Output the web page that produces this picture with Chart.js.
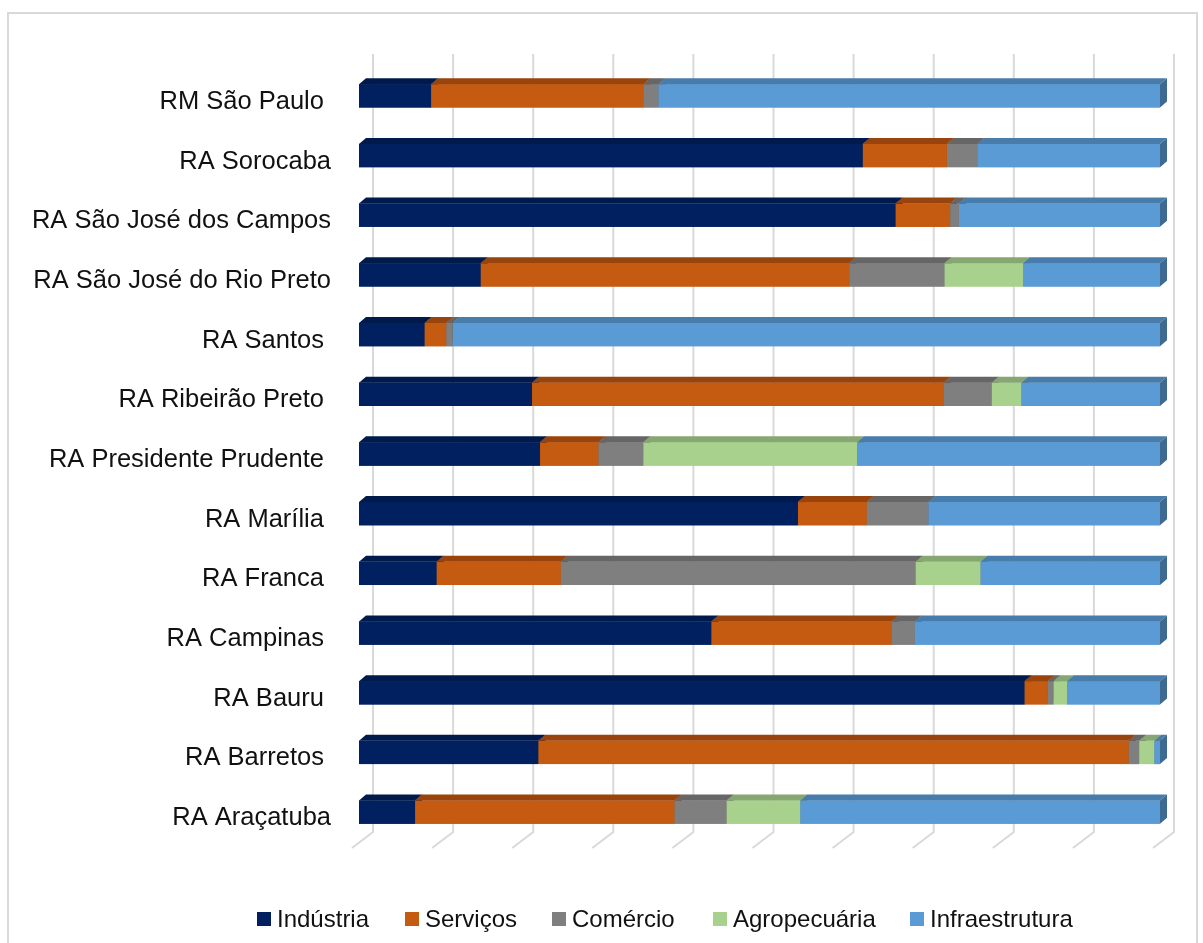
<!DOCTYPE html>
<html lang="pt">
<head>
<meta charset="utf-8">
<title>Distribuição por setor</title>
<script src="https://cdn.jsdelivr.net/npm/chart.js@4/dist/chart.umd.min.js"></script>
<style>
  html, body { margin: 0; padding: 0; background: #fff; }
  body { width: 1203px; height: 943px; position: relative; overflow: hidden; font-family: "Liberation Sans", Arial, sans-serif; }
  #frame { position: absolute; left: 7px; top: 12px; width: 1187px; height: 980px; border: 2px solid #d9d9d9; }
  #wrap { position: absolute; left: 0; top: 0; width: 1203px; height: 943px; }
  #legend { position: absolute; top: 904px; left: 0; height: 30px; color: #111; font-size: 24px; }
  #legend .item { position: absolute; top: 0; display: flex; align-items: center; white-space: nowrap; height: 30px; }
  #legend .box { width: 14px; height: 14px; margin-right: 6px; }
</style>
</head>
<body>
<div id="frame"></div>
<div id="wrap"><canvas id="chart" width="1203" height="943"></canvas></div>
<div id="legend"></div>
<script>
// ── Data ──────────────────────────────────────────────────
const regions = [
  'RM São Paulo ', 'RA Sorocaba', 'RA São José dos Campos', 'RA São José do Rio Preto',
  'RA Santos ', 'RA Ribeirão Preto ', 'RA Presidente Prudente ', 'RA Marília ',
  'RA Franca ', 'RA Campinas ', 'RA Bauru ', 'RA Barretos ', 'RA Araçatuba'
];
const industria      = [ 9.0, 62.9, 67.0, 15.2,  8.2, 21.6, 22.6, 54.8,  9.7, 44.0, 83.1, 22.4,  7.0];
const servicos       = [26.5, 10.5,  6.8, 46.0,  2.7, 51.4,  7.3,  8.6, 15.5, 22.5,  2.9, 73.7, 32.4];
const comercio       = [ 1.9,  3.8,  1.1, 11.9,  0.8,  6.0,  5.6,  7.7, 44.3,  2.9,  0.7,  1.3,  6.5];
const agropecuaria   = [ 0.0,  0.0,  0.0,  9.8,  0.0,  3.7, 26.7,  0.0,  8.1,  0.0,  1.7,  1.9,  9.2];
const infraestrutura = [62.6, 22.8, 25.1, 17.1, 88.3, 17.3, 37.8, 28.9, 22.4, 30.6, 11.6,  0.7, 44.9];
const gridTicks = [0, 10, 20, 30, 40, 50, 60, 70, 80, 90, 100];

const seriesNames = ['Indústria', 'Serviços', 'Comércio', 'Agropecuária', 'Infraestrutura'];
const seriesData  = [industria, servicos, comercio, agropecuaria, infraestrutura];
const frontColors = ['#002060', '#C55A11', '#7F7F7F', '#A9D18E', '#5B9BD5'];
const topColors   = ['#001A4C', '#9A440D', '#666666', '#87A772', '#487CAA'];
const sideColors  = ['#00163F', '#8A3C0B', '#5A5A5A', '#76925F', '#3E6A92'];

const DX = 7, DY = 6;   // depth of the fake 3D

// ── 3D bars + slanted grid ────────────────────────────────
const bar3d = {
  id: 'bar3d',
  beforeDatasetsDraw(chart) {
    const { ctx, chartArea, scales: { x } } = chart;
    ctx.save();
    ctx.strokeStyle = '#d9d9d9';
    ctx.lineWidth = 2;
    gridTicks.forEach(v => {
      const px = x.getPixelForValue(v);
      ctx.beginPath();
      ctx.moveTo(px + 14, chartArea.top - 12);
      ctx.lineTo(px + 14, chartArea.bottom - 10);
      ctx.lineTo(px - 7, chartArea.bottom + 6);
      ctx.stroke();
    });
    ctx.restore();
  },
  afterDatasetsDraw(chart) {
    const { ctx } = chart;
    ctx.save();
    chart.data.datasets.forEach((ds, i) => {
      const meta = chart.getDatasetMeta(i);
      meta.data.forEach((el, j) => {
        if (!ds.data[j]) return;
        const l = Math.min(el.base, el.x), r = Math.max(el.base, el.x);
        const t = el.y - el.height / 2, b = el.y + el.height / 2;
        ctx.fillStyle = frontColors[i];
        ctx.fillRect(l, t, r - l, b - t);
        ctx.fillStyle = topColors[i];
        ctx.beginPath();
        ctx.moveTo(l, t); ctx.lineTo(r, t); ctx.lineTo(r + DX, t - DY); ctx.lineTo(l + DX, t - DY);
        ctx.closePath(); ctx.fill();
        ctx.fillStyle = sideColors[i];
        ctx.beginPath();
        ctx.moveTo(r, t); ctx.lineTo(r + DX, t - DY); ctx.lineTo(r + DX, b - DY); ctx.lineTo(r, b);
        ctx.closePath(); ctx.fill();
      });
    });
    ctx.restore();
  }
};

// ── Chart ─────────────────────────────────────────────────
new Chart(document.getElementById('chart'), {
  type: 'bar',
  data: {
    labels: regions,
    datasets: seriesNames.map((name, i) => ({
      label: name,
      data: seriesData[i],
      backgroundColor: frontColors[i],
      borderWidth: 0,
      categoryPercentage: 1,
      barPercentage: 0.39,
    }))
  },
  options: {
    indexAxis: 'y',
    responsive: false,
    animation: false,
    events: [],
    layout: { padding: { left: 0, right: 43, top: 66, bottom: 101 } },
    plugins: { legend: { display: false }, tooltip: { enabled: false } },
    scales: {
      x: { stacked: true, min: 0, max: 100, display: false },
      y: {
        stacked: true,
        grid: { display: false, drawTicks: false },
        border: { display: false },
        afterFit: s => { s.width = 359; },
        ticks: {
          color: '#111',
          padding: 28,
          labelOffset: 6,
          font: { family: '"Liberation Sans", Arial, sans-serif', size: 25.5 }
        }
      }
    }
  },
  plugins: [bar3d]
});

// ── Legend ────────────────────────────────────────────────
const legendLefts = [257, 405, 552, 713, 910];
document.getElementById('legend').innerHTML = seriesNames.map((n, i) =>
  `<div class="item" style="left:${legendLefts[i]}px"><span class="box" style="background:${frontColors[i]}"></span>${n}</div>`
).join('');
</script>
</body>
</html>
